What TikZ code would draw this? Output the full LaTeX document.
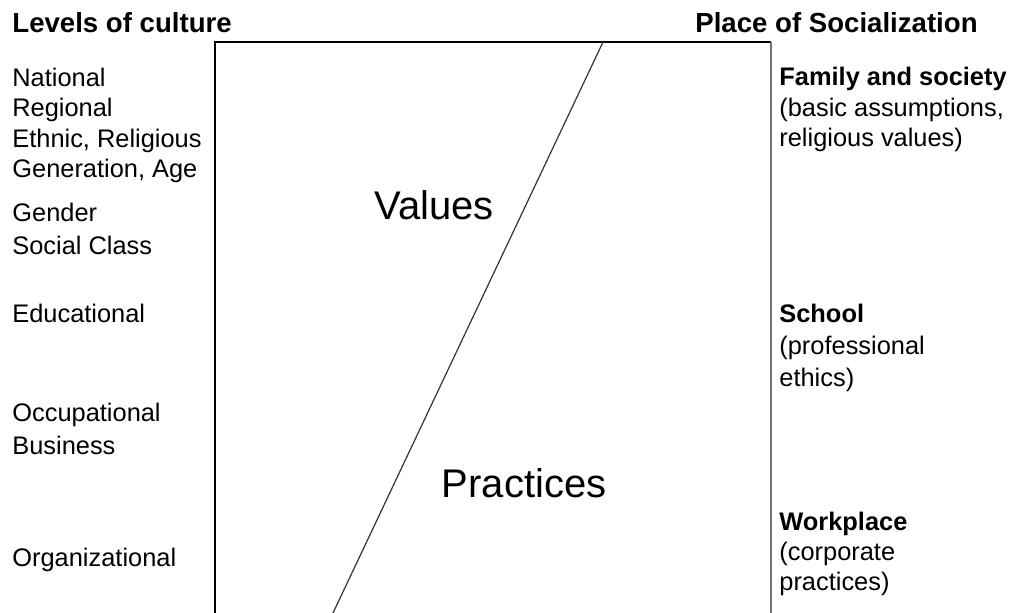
\documentclass[tikz,border=0pt]{standalone}
\usepackage{fontspec}
\setmainfont{Liberation Sans}
\usepackage{tikz}

\begin{document}
\begin{tikzpicture}[x=0.5pt, y=-0.5pt,
  level/.style={anchor=base west, inner sep=0pt, font=\fontsize{12.7}{15}\selectfont},
  place/.style={anchor=base west, inner sep=0pt, font=\fontsize{12.7}{15}\selectfont\bfseries},
  header/.style={anchor=base west, inner sep=0pt, font=\fontsize{13.8}{16}\selectfont\bfseries},
  big/.style={anchor=base, inner sep=0pt, font=\fontsize{20}{24}\selectfont}]
\useasboundingbox (0,0) rectangle (1011,613);

\coordinate (TL) at (215,42);
\coordinate (TR) at (771,42);
\coordinate (BL) at (215,613);
\coordinate (BR) at (771,613);
\coordinate (D1) at (603,42);
\coordinate (D2) at (333,613);

% open frame and the dividing line
\draw[line width=0.8pt, color=black] (BL) -- (TL) -- (TR);
\draw[line width=0.8pt, color=black!55] (TR) -- (BR);
\draw[line width=0.6pt, color=black!80] (D1) -- (D2);

\node[big] (values) at (434,220) {Values};
\node[big] (practices) at (524,498) {Practices};

% levels of culture
\node[header] (levels) at (12,33) {Levels of culture};
\node[level] (national) at (12,87) {National};
\node[level] (regional) at (12,117) {Regional};
\node[level] (ethnic) at (12,148) {Ethnic, Religious};
\node[level] (generation) at (12,178) {Generation, Age};
\node[level] (gender) at (12,222) {Gender};
\node[level] (class) at (12,255) {Social Class};
\node[level] (educational) at (12,323) {Educational};
\node[level] (occupational) at (12,422) {Occupational};
\node[level] (business) at (12,455) {Business};
\node[level] (organizational) at (12,567) {Organizational};

% places of socialization
\node[header] (socialization) at (695,33) {Place of Socialization};
\node[place] (family) at (779,86) {Family and society};
\node[level] (family2) at (779,117) {(basic assumptions,};
\node[level] (family3) at (779,147) {religious values)};
\node[place] (school) at (779,323) {School};
\node[level] (school2) at (779,355) {(professional};
\node[level] (school3) at (779,387) {ethics)};
\node[place] (workplace) at (779,531) {Workplace};
\node[level] (workplace2) at (779,561) {(corporate};
\node[level] (workplace3) at (779,591) {practices)};
\end{tikzpicture}
\end{document}
